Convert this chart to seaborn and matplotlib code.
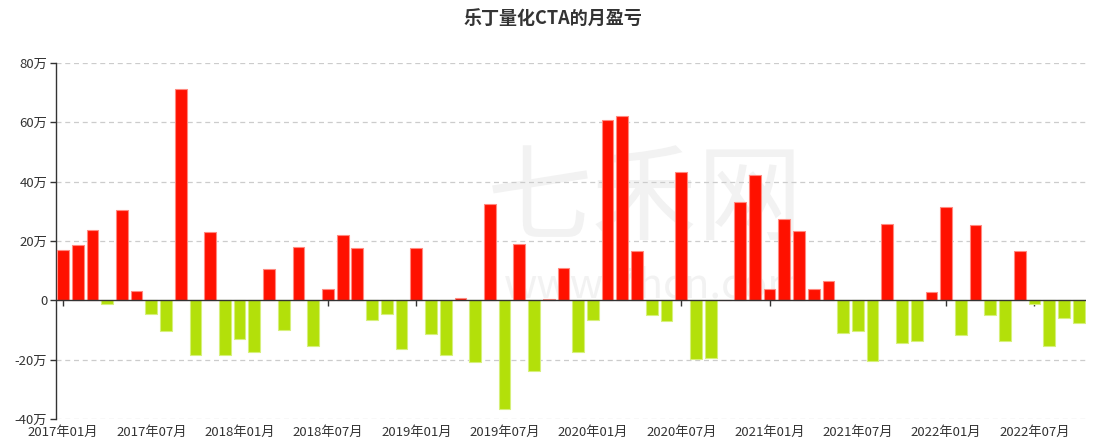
import pandas as pd
import matplotlib.pyplot as plt
import seaborn as sns

# 月度盈亏（单位：万）
months = pd.period_range("2017-01", "2022-10", freq="M").strftime("%Y年%m月").tolist()
pnl = [
    16.8, 18.5, 23.8, -1.2, 30.5, 3.0, -4.5, -10.4, 71.3, -18.3, 22.9, -18.5,
    -13.0, -17.5, 10.4, -10.0, 18.1, -15.3, 3.9, 21.9, 17.7, -6.5, -4.5, -16.3,
    17.7, -11.4, -18.5, 0.7, -20.8, 32.5, -36.6, 19.1, -23.7, 0.3, 11.0, -17.5,
    -6.7, 60.7, 62.0, 16.7, -5.1, -7.1, 43.2, -19.9, -19.6, 0.0, 33.3, 42.3,
    3.8, 27.5, 23.5, 3.9, 6.4, -10.9, -10.2, -20.4, 25.6, -14.4, -13.7, 2.9,
    31.6, -11.7, 25.3, -4.8, -13.8, 16.7, -1.2, -15.4, -6.0, -7.5,
]
y_ticks = [-40, -20, 0, 20, 40, 60, 80]
y_labels = ["-40万", "-20万", "0", "20万", "40万", "60万", "80万"]

df = pd.DataFrame({"month": months, "pnl": pnl})
df["sign"] = ["盈" if v >= 0 else "亏" for v in df["pnl"]]

sns.set_theme(style="white")
plt.rcParams["font.family"] = ["Noto Sans CJK SC", "DejaVu Sans"]
plt.rcParams["axes.unicode_minus"] = False

fig = plt.figure(figsize=(11.05, 4.48), dpi=100)
ax = fig.add_axes([55.6 / 1105, 1 - 419 / 448, (1086 - 55.6) / 1105, (419 - 63) / 448])

# 水印
ax.text(0.572, 0.61, "七禾网", transform=ax.transAxes, fontsize=76, color="#f2f2f2",
        ha="center", va="center", zorder=0)
ax.text(0.582, 0.375, "www.7hcn.com", transform=ax.transAxes, fontsize=30, color="#f2f2f2",
        ha="center", va="center", zorder=0)

sns.barplot(data=df, x="month", y="pnl", hue="sign",
            palette={"盈": "#ff1100", "亏": "#b3e00a"}, dodge=False, saturation=1,
            width=0.8, legend=False, ax=ax, zorder=3)
for bar in ax.patches:
    fc = bar.get_facecolor()
    if fc[1] > 0.5:
        bar.set_edgecolor("#d6f07a")
    else:
        bar.set_edgecolor("#ff8a80")
    bar.set_linewidth(0.8)

ax.set_xlim(-0.5, len(months) - 0.5)
ax.set_ylim(-40, 80)
ax.set_yticks(y_ticks)
ax.set_yticklabels(y_labels)
for y in y_ticks:
    if y != 0:
        ax.axhline(y, color="#cccccc", lw=0.9, ls=(0, (4, 3)), zorder=1)
ax.axhline(0, color="#333333", lw=1.0, zorder=4)

ax.set_xticks(range(0, len(months), 6))
ax.set_xticklabels(months[::6])
ax.tick_params(axis="x", length=0, pad=5, labelsize=9.5, labelcolor="#333333")
ax.tick_params(axis="y", left=True, length=4, width=1, color="#333333",
               pad=2, labelsize=9.5, labelcolor="#333333")
ax.set_xlabel("")
ax.set_ylabel("")

for s in ["top", "right", "bottom"]:
    ax.spines[s].set_visible(False)
ax.spines["left"].set_color("#333333")
ax.spines["left"].set_linewidth(1.0)

# 零轴上的刻度
sec = ax.secondary_xaxis(40 / 120)
sec.set_xticks(range(0, len(months), 6))
sec.set_xticklabels([])
sec.tick_params(axis="x", length=4, width=1, color="#333333", direction="out")
sec.spines["bottom"].set_visible(False)

fig.suptitle("乐丁量化CTA的月盈亏", x=0.5, y=0.98, fontsize=13,
             fontweight="bold", color="#333333")

fig.savefig("out.png", dpi=100)
